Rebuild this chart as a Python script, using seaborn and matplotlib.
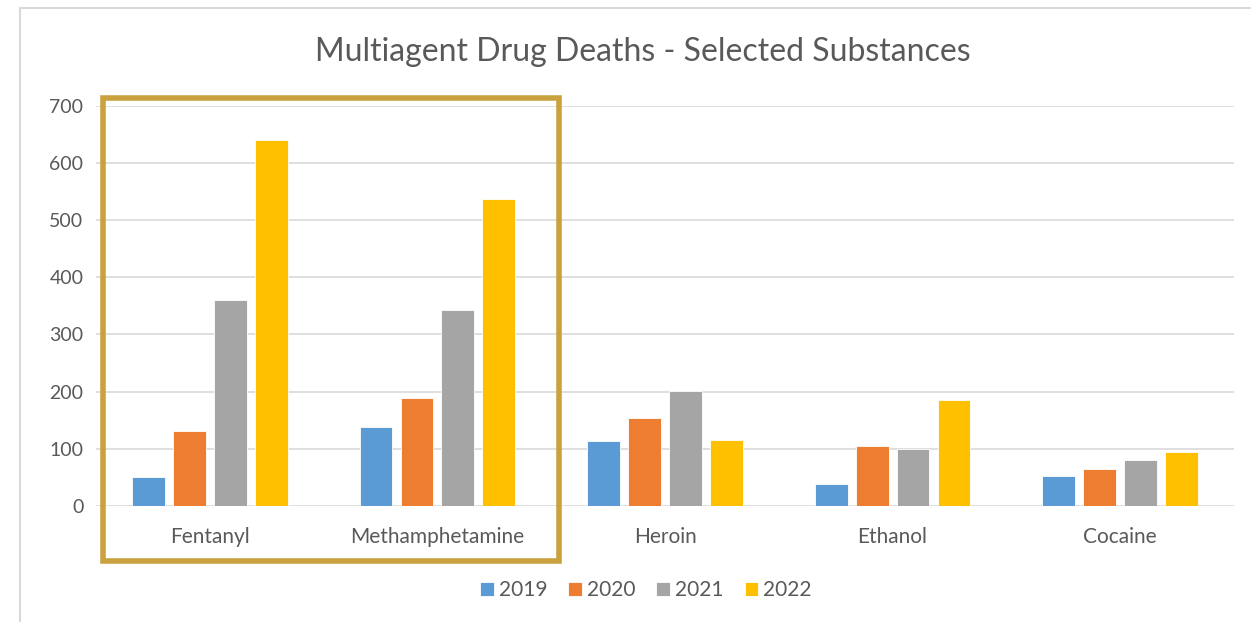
import matplotlib
matplotlib.use("Agg")
import matplotlib.pyplot as plt
import seaborn as sns
import pandas as pd
from matplotlib.patches import Rectangle

substances = ["Fentanyl", "Methamphetamine", "Heroin", "Ethanol", "Cocaine"]
years = ["2019", "2020", "2021", "2022"]
deaths_2019 = [50, 138, 114, 38, 53]
deaths_2020 = [131, 188, 154, 105, 64]
deaths_2021 = [360, 343, 201, 100, 81]
deaths_2022 = [640, 537, 116, 185, 95]
colors = ["#5B9BD5", "#ED7D31", "#A5A5A5", "#FFC000"]
title = "Multiagent Drug Deaths - Selected Substances"

rows = []
for yr, vals in zip(years, [deaths_2019, deaths_2020, deaths_2021, deaths_2022]):
    for s, v in zip(substances, vals):
        rows.append({"Substance": s, "Year": yr, "Deaths": v})
df = pd.DataFrame(rows)

sns.set_theme(style="white")
plt.rcParams["font.family"] = ["Lato", "DejaVu Sans"]
text_color = "#595959"

fig = plt.figure(figsize=(12.51, 6.22), dpi=100)
ax = fig.add_axes([96 / 1251, 1 - 506 / 622, (1234 - 96) / 1251, (506 - 105.7) / 622])

sns.barplot(data=df, x="Substance", y="Deaths", hue="Year", order=substances,
            hue_order=years, palette=colors, width=0.72, gap=0.2,
            edgecolor="white", linewidth=0.6, ax=ax, legend=True, saturation=1)

ax.set_ylim(0, 700)
ax.set_yticks(range(0, 701, 100))
ax.yaxis.grid(True, color="#D9D9D9", linewidth=1.2)
ax.set_axisbelow(True)
for sp in ax.spines.values():
    sp.set_visible(False)
ax.set_xlabel("")
ax.set_ylabel("")
ax.tick_params(axis="y", labelsize=14, colors=text_color, pad=9, length=0)
ax.tick_params(axis="x", labelsize=15, colors=text_color, pad=15, length=0)

handles, labels = ax.get_legend_handles_labels()
ax.get_legend().remove()
fig.legend(handles, labels, loc="center", bbox_to_anchor=(646 / 1251, 1 - 590 / 622),
           ncol=4, frameon=False, fontsize=15, handlelength=0.65, handleheight=0.65,
           handletextpad=0.25, columnspacing=1.0, labelcolor=text_color)

fig.text(643 / 1251, 1 - 52 / 622, title, ha="center", va="center",
         fontsize=23, color=text_color)

# outer chart frame (cropped)
fig.patches.append(Rectangle((20 / 1251, -0.1), 1.2, 1 - 8 / 622 + 0.1,
                             transform=fig.transFigure, fill=False,
                             edgecolor="#D9D9D9", linewidth=1.5))
# highlight box
fig.patches.append(Rectangle((103 / 1251, 1 - 561 / 622), (559 - 103) / 1251, (561 - 98) / 622,
                             transform=fig.transFigure, fill=False,
                             edgecolor="#C9A23F", linewidth=4))

fig.savefig("out.png", dpi=100, facecolor="white")
